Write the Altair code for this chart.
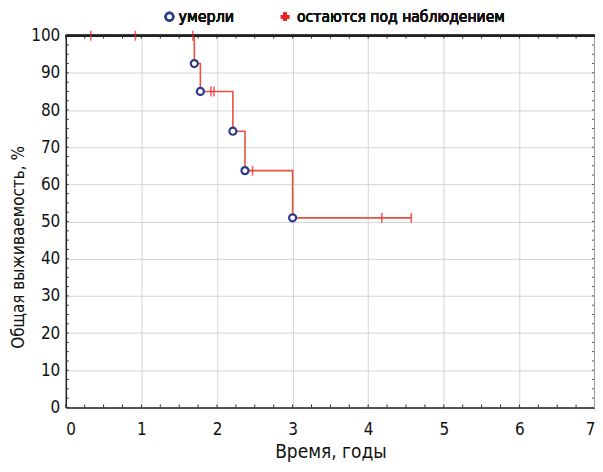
import altair as alt
import pandas as pd

# KM step curve
step_time = [0, 1.70, 1.78, 2.21, 2.37, 3.00, 4.57]
step_surv = [100, 92.5, 85.0, 74.3, 63.7, 51.0, 51.0]

# deaths (circles)
death_time = [1.70, 1.78, 2.21, 2.37, 3.00]
death_surv = [92.5, 85.0, 74.3, 63.7, 51.0]

# censored (plus)
cens_time = [0.33, 0.92, 1.68, 1.92, 1.96, 2.47, 4.18, 4.57]
cens_surv = [100, 100, 100, 85.0, 85.0, 63.7, 51.0, 51.0]

x_ticks = [0, 1, 2, 3, 4, 5, 6, 7]
y_ticks = [0, 10, 20, 30, 40, 50, 60, 70, 80, 90, 100]
x_minor = [i * 0.25 for i in range(29)]
y_minor = [i * 2.5 for i in range(41)]

FONT = "DejaVu Sans Condensed, Roboto Condensed, Roboto, sans-serif"
W, H = 531, 373
LINE = "#e8503f"
RED = "#ee2222"
BLUE = "#2e3a8c"

step_df = pd.DataFrame({"t": step_time, "s": step_surv})
death_df = pd.DataFrame({"t": death_time, "s": death_surv})
cens_df = pd.DataFrame({"t": cens_time, "s": cens_surv})
xm_df = pd.DataFrame({"t": x_minor})
ym_df = pd.DataFrame({"s": y_minor})

xscale = alt.Scale(domain=[0, 7], nice=False)
yscale = alt.Scale(domain=[0, 100], nice=False)

xaxis = alt.Axis(values=x_ticks, title="Время, годы", grid=True, gridColor="#d4d4d4",
                 gridWidth=1, tickSize=0, domain=True, domainColor="#222", domainWidth=1.5,
                 labelPadding=14, labelFontSize=17, titleFontSize=19, titleFontWeight="normal",
                 titlePadding=5, labelFont=FONT, titleFont=FONT, labelColor="#111", titleColor="#111",
                 labelOverlap=False, format="d")
yaxis = alt.Axis(values=y_ticks, title="Общая выживаемость, %", grid=True, gridColor="#d4d4d4",
                 gridWidth=1, tickSize=0, domain=True, domainColor="#222", domainWidth=1.5,
                 labelPadding=6, labelFontSize=17, titleFontSize=17, titleFontWeight="normal",
                 titlePadding=3, titleY=212, labelFont=FONT, titleFont=FONT, labelColor="#111",
                 titleColor="#111", labelOverlap=False, format="d")

X = alt.X("t:Q", scale=xscale, axis=xaxis)
Y = alt.Y("s:Q", scale=yscale, axis=yaxis)

base_grid = alt.Chart(step_df).mark_line(opacity=0).encode(x=X, y=Y)

curve = alt.Chart(step_df).mark_line(color=LINE, strokeWidth=1.6, interpolate="step-after").encode(
    x=X, y=Y)

cens = alt.Chart(cens_df).mark_point(shape="M0,-1L0,1", color=RED, strokeWidth=1.6, size=100,
                                     filled=False).encode(x=X, y=Y)

deaths = alt.Chart(death_df).mark_point(shape="circle", filled=True, fill="white", stroke=BLUE,
                                        strokeWidth=2.2, size=50, opacity=1).encode(x=X, y=Y)

# minor ticks (inward) on bottom/top and left/right
mt_bottom = alt.Chart(xm_df).mark_rule(color="#333", strokeWidth=1).encode(
    x=X, y=alt.value(H), y2=alt.value(H - 3))
mt_top = alt.Chart(xm_df).mark_rule(color="#333", strokeWidth=1).encode(
    x=X, y=alt.value(0), y2=alt.value(3))
mt_left = alt.Chart(ym_df).mark_rule(color="#333", strokeWidth=1).encode(
    y=Y, x=alt.value(0), x2=alt.value(3))
mt_right = alt.Chart(ym_df).mark_rule(color="#555", strokeWidth=1).encode(
    y=Y, x=alt.value(W), x2=alt.value(W - 3))

top_border = alt.Chart(step_df).mark_rule(color="#222", strokeWidth=2).encode(
    x=alt.value(0), x2=alt.value(W), y=alt.value(0))
right_border = alt.Chart(step_df).mark_rule(color="#9a9a9a", strokeWidth=2).encode(
    x=alt.value(W), y=alt.value(0), y2=alt.value(H))

# legend
leg_c = alt.Chart(step_df).mark_point(shape="circle", filled=True, fill="white", stroke=BLUE,
                                      strokeWidth=2.4, size=55).encode(
    x=alt.value(104), y=alt.value(-19))
leg_ct = alt.Chart(step_df).mark_text(text="умерли", align="left", baseline="middle", font=FONT,
                                      fontSize=16, fontWeight="normal", color="#111").encode(
    x=alt.value(113), y=alt.value(-19))
leg_p = alt.Chart(step_df).mark_point(shape="cross", filled=True, color=RED, size=70).encode(
    x=alt.value(220), y=alt.value(-19))
leg_pt = alt.Chart(step_df).mark_text(text="остаются под наблюдением", align="left", baseline="middle",
                                      font=FONT, fontSize=15.6, fontWeight="normal", color="#111").encode(
    x=alt.value(232), y=alt.value(-19))

chart = alt.layer(base_grid, mt_bottom, mt_top, mt_left, mt_right, right_border,
                  curve, top_border, cens, deaths, leg_c, leg_ct, leg_p, leg_pt).properties(
    width=W, height=H,
    autosize=alt.AutoSizeParams(type="none"),
    padding={"left": 58, "top": 27, "right": 0, "bottom": 56},
    background="white",
).configure_view(stroke=None)

chart.save("out.html", embed_options={"renderer": "svg", "actions": False})
